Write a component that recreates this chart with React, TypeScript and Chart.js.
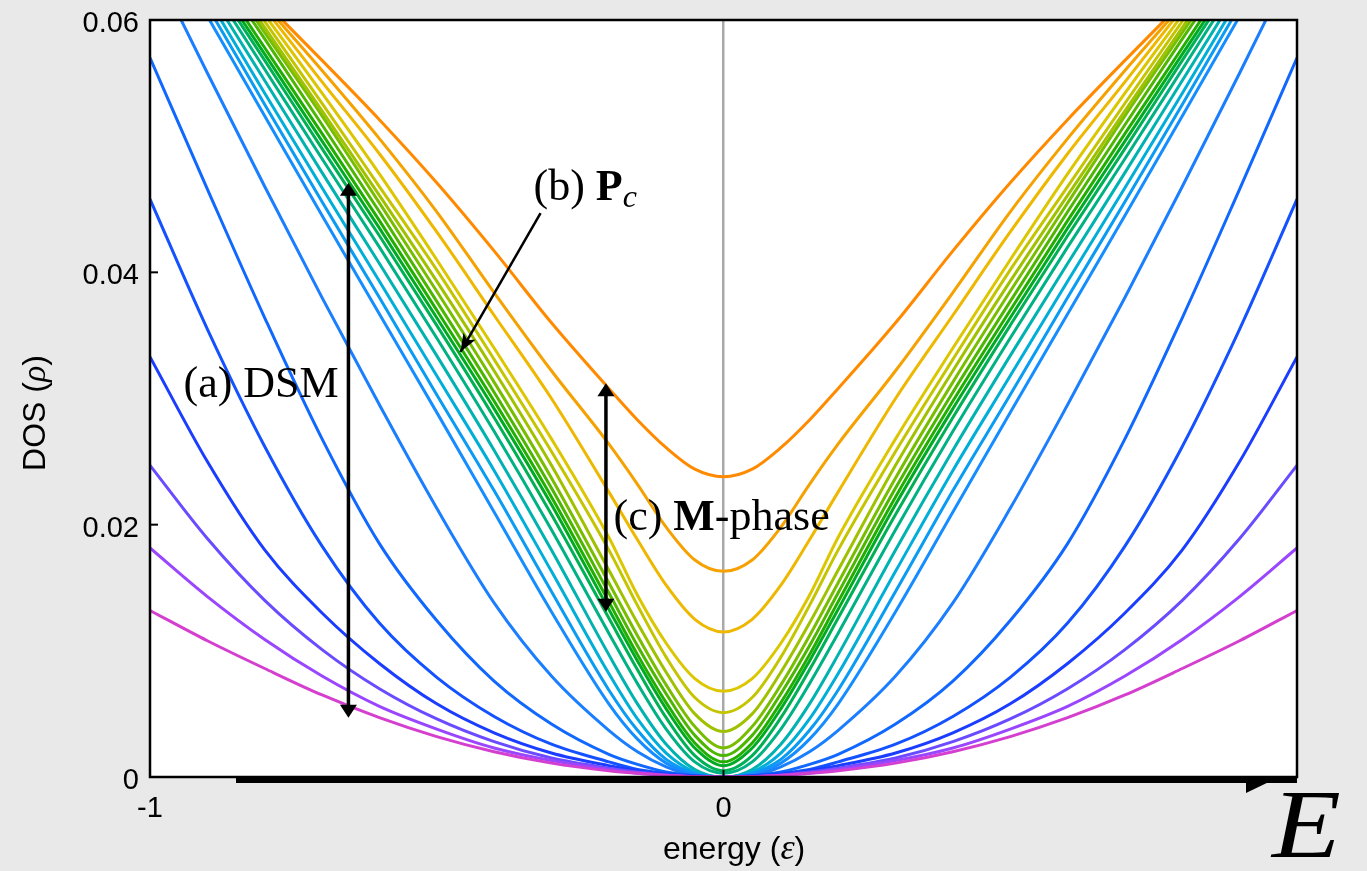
import { useEffect, useRef } from "react";
import { Chart, registerables } from "chart.js";

Chart.register(...registerables);

// energy grid (right half; the DOS curves are symmetric in energy)
const ENERGY = [0, 0.05, 0.1, 0.15, 0.2, 0.3, 0.4, 0.5, 0.6, 0.7, 0.8, 0.9, 1.0];

// DOS curves, from weakest (magenta) to strongest disorder (orange)
const rho01 = [0, 0.00003, 0.00012, 0.0003, 0.0005, 0.0011, 0.002, 0.0032, 0.0047, 0.0065, 0.0086, 0.0108, 0.0132];
const rho02 = [0, 0.00003, 0.00014, 0.0003, 0.0006, 0.0013, 0.0023, 0.0038, 0.0056, 0.008, 0.0109, 0.0143, 0.01815];
const rho03 = [0, 0.00004, 0.00016, 0.0004, 0.0007, 0.0015, 0.0028, 0.0046, 0.007, 0.0101, 0.014, 0.0189, 0.0247];
const rho04 = [0, 0.00005, 0.0002, 0.0005, 0.0009, 0.0019, 0.0035, 0.0058, 0.009, 0.013, 0.018, 0.025, 0.0333];
const rho05 = [0, 0.0001, 0.0003, 0.0006, 0.0012, 0.0026, 0.0048, 0.0079, 0.0122, 0.0183, 0.0262, 0.0355, 0.0458];
const rho06 = [0, 0.0001, 0.0004, 0.001, 0.0018, 0.0042, 0.0076, 0.0124, 0.0185, 0.0268, 0.0364, 0.0466, 0.057];
const rho07 = [0, 0.0001, 0.0008, 0.002, 0.0037, 0.008, 0.0138, 0.0213, 0.0295, 0.038, 0.0468, 0.0558, 0.065];
const rho08 = [0, 0.0002, 0.0011, 0.003, 0.0058, 0.0131, 0.021, 0.0289, 0.0367, 0.0445, 0.0524, 0.0603, 0.0682];
const rho09 = [0, 0.0003, 0.0014, 0.0037, 0.0069, 0.0147, 0.0227, 0.0303, 0.038, 0.0456, 0.0533, 0.0611, 0.0688];
const rho10 = [0, 0.0004, 0.0019, 0.0046, 0.0082, 0.0163, 0.0243, 0.0318, 0.0393, 0.0467, 0.0542, 0.0618, 0.0693];
const rho11 = [0, 0.0006, 0.0026, 0.0058, 0.0097, 0.018, 0.0259, 0.0334, 0.0407, 0.0479, 0.0552, 0.0625, 0.0698];
const rho12 = [0.0003, 0.0012, 0.0038, 0.0074, 0.0114, 0.0196, 0.0274, 0.0348, 0.042, 0.049, 0.0561, 0.0632, 0.0702];
const rho13 = [0.0005, 0.0017, 0.0047, 0.0085, 0.0126, 0.0208, 0.0285, 0.0358, 0.0429, 0.0498, 0.0568, 0.0637, 0.0706];
const rho14 = [0.0009, 0.0023, 0.0054, 0.0092, 0.0133, 0.0216, 0.0292, 0.0364, 0.0435, 0.0504, 0.0573, 0.0641, 0.0709];
const rho15 = [0.0012, 0.0027, 0.0059, 0.0097, 0.0139, 0.0222, 0.0298, 0.037, 0.0441, 0.051, 0.0578, 0.0646, 0.0714];
const rho16 = [0.0017, 0.0033, 0.0066, 0.0104, 0.0146, 0.0229, 0.0305, 0.0377, 0.0448, 0.0517, 0.0585, 0.0652, 0.0719];
const rho17 = [0.0023, 0.004, 0.0073, 0.0112, 0.0154, 0.0237, 0.0313, 0.0385, 0.0455, 0.0524, 0.059, 0.0656, 0.0722];
const rho18 = [0.0036, 0.005, 0.0083, 0.0122, 0.0164, 0.0247, 0.0322, 0.0393, 0.0461, 0.0528, 0.0594, 0.066, 0.0726];
const rho19 = [0.0051, 0.0063, 0.0095, 0.0136, 0.018, 0.0258, 0.0331, 0.0402, 0.0468, 0.0534, 0.0599, 0.0663, 0.0727];
const rho20 = [0.0068, 0.0078, 0.0106, 0.0144, 0.019, 0.0268, 0.034, 0.041, 0.0478, 0.0542, 0.0604, 0.0665, 0.0725];
const rho21 = [0.0115, 0.0125, 0.0152, 0.0188, 0.0226, 0.03, 0.0366, 0.0432, 0.0494, 0.0551, 0.0609, 0.0667, 0.0725];
const rho22 = [0.0163, 0.0172, 0.0198, 0.0232, 0.0264, 0.0322, 0.0384, 0.0448, 0.0506, 0.056, 0.0612, 0.0665, 0.0718];
const rho23 = [0.0238, 0.0244, 0.0261, 0.0283, 0.0308, 0.036, 0.0417, 0.0471, 0.0521, 0.0568, 0.0614, 0.066, 0.0705];

const CURVES = [rho01, rho02, rho03, rho04, rho05, rho06, rho07, rho08, rho09, rho10, rho11, rho12,
  rho13, rho14, rho15, rho16, rho17, rho18, rho19, rho20, rho21, rho22, rho23];

const CURVE_COLORS = ["#d53fcf", "#9a46ff", "#6b4bff", "#1b3dff", "#1452ff", "#1168ff", "#1a7eff",
  "#168dff", "#0a9bf2", "#00aed8", "#00b2b0", "#00b183", "#00b055", "#00aa22", "#22ae00", "#4cb600",
  "#78bd00", "#a0c100", "#c4c500", "#dcc600", "#eeb700", "#f5a100", "#ff8a00"];

const X_MIN = -1;
const X_MAX = 1;
const Y_MIN = 0;
const Y_MAX = 0.06;
const Y_TICKS = [0.02, 0.04, 0.06];

function mirrored(values: number[]) {
  const pts: { x: number; y: number }[] = [];
  for (let i = ENERGY.length - 1; i >= 1; i--) pts.push({ x: -ENERGY[i], y: values[i] });
  for (let i = 0; i < ENERGY.length; i++) pts.push({ x: ENERGY[i], y: values[i] });
  return pts;
}

type Run = { text: string; font: string; dy?: number };

function drawRuns(ctx: CanvasRenderingContext2D, x: number, y: number, runs: Run[], align: "left" | "center" = "left") {
  let total = 0;
  for (const r of runs) {
    ctx.font = r.font;
    total += ctx.measureText(r.text).width;
  }
  let cx = align === "center" ? x - total / 2 : x;
  ctx.textAlign = "left";
  ctx.textBaseline = "alphabetic";
  for (const r of runs) {
    ctx.font = r.font;
    ctx.fillText(r.text, cx, y + (r.dy || 0));
    cx += ctx.measureText(r.text).width;
  }
}

function doubleArrow(ctx: CanvasRenderingContext2D, x: number, y1: number, y2: number) {
  const hl = 13;
  const hw = 8.5;
  ctx.strokeStyle = "#000";
  ctx.fillStyle = "#000";
  ctx.lineWidth = 3.5;
  ctx.beginPath();
  ctx.moveTo(x, y1 + hl - 1);
  ctx.lineTo(x, y2 - hl + 1);
  ctx.stroke();
  ctx.beginPath();
  ctx.moveTo(x, y1);
  ctx.lineTo(x - hw, y1 + hl);
  ctx.lineTo(x + hw, y1 + hl);
  ctx.closePath();
  ctx.fill();
  ctx.beginPath();
  ctx.moveTo(x, y2);
  ctx.lineTo(x - hw, y2 - hl);
  ctx.lineTo(x + hw, y2 - hl);
  ctx.closePath();
  ctx.fill();
}

const decorPlugin = {
  id: "decor",
  beforeDraw(chart: any) {
    const { ctx, chartArea: a } = chart;
    ctx.save();
    ctx.fillStyle = "#ffffff";
    ctx.fillRect(a.left, a.top, a.right - a.left, a.bottom - a.top);
    ctx.restore();
  },
  afterDraw(chart: any) {
    const { ctx, chartArea: a } = chart;
    const xs = chart.scales.x;
    const ys = chart.scales.y;
    const px = (v: number) => xs.getPixelForValue(v);
    const py = (v: number) => ys.getPixelForValue(v);
    ctx.save();

    // frame
    ctx.strokeStyle = "#000";
    ctx.lineWidth = 2.5;
    ctx.strokeRect(a.left, a.top, a.right - a.left, a.bottom - a.top);

    // inward tick marks
    ctx.lineWidth = 2;
    for (const t of Y_TICKS) {
      ctx.beginPath();
      ctx.moveTo(a.left, py(t));
      ctx.lineTo(a.left + 8, py(t));
      ctx.stroke();
    }
    ctx.beginPath();
    ctx.moveTo(px(0), a.bottom);
    ctx.lineTo(px(0), a.bottom - 7);
    ctx.stroke();

    // thick energy axis arrow "E"
    ctx.fillStyle = "#000";
    ctx.fillRect(a.left + 86, a.bottom - 1, a.right - a.left - 86, 7);
    ctx.beginPath();
    ctx.moveTo(a.right - 51, a.bottom + 5);
    ctx.lineTo(a.right - 24, a.bottom + 3);
    ctx.lineTo(a.right - 51, a.bottom + 16);
    ctx.closePath();
    ctx.fill();

    // annotation arrows
    doubleArrow(ctx, px(-0.654), py(0.0471), py(0.0047));
    doubleArrow(ctx, px(-0.205), py(0.0312), py(0.0131));

    // (b) arrow
    const x1 = px(-0.319), y1 = py(0.0447);
    const x2 = px(-0.4586), y2 = py(0.0337);
    ctx.lineWidth = 2.5;
    ctx.beginPath();
    ctx.moveTo(x1, y1);
    ctx.lineTo(x2, y2);
    ctx.stroke();
    const ang = Math.atan2(y2 - y1, x2 - x1);
    const hl = 18, hw = 7;
    ctx.beginPath();
    ctx.moveTo(x2, y2);
    ctx.lineTo(x2 - hl * Math.cos(ang) + hw * Math.sin(ang), y2 - hl * Math.sin(ang) - hw * Math.cos(ang));
    ctx.lineTo(x2 - hl * 0.75 * Math.cos(ang), y2 - hl * 0.75 * Math.sin(ang));
    ctx.lineTo(x2 - hl * Math.cos(ang) - hw * Math.sin(ang), y2 - hl * Math.sin(ang) + hw * Math.cos(ang));
    ctx.closePath();
    ctx.fill();

    // annotation texts
    ctx.fillStyle = "#000";
    const serif = "'Liberation Serif', 'Times New Roman', serif";
    drawRuns(ctx, px(-0.9416), py(0.0301), [{ text: "(a) DSM", font: `44px ${serif}` }]);
    drawRuns(ctx, px(-0.3313), py(0.0457), [
      { text: "(b) ", font: `44px ${serif}` },
      { text: "P", font: `bold 44px ${serif}` },
      { text: "c", font: `italic 32px ${serif}`, dy: 7 },
    ]);
    drawRuns(ctx, px(-0.1918), py(0.0196), [
      { text: "(c) ", font: `44px ${serif}` },
      { text: "M", font: `bold 44px ${serif}` },
      { text: "-phase", font: `44px ${serif}` },
    ]);

    // axis titles
    const sans = "'Liberation Sans', Arial, sans-serif";
    drawRuns(ctx, 663, 859, [
      { text: "energy (", font: `32px ${sans}` },
      { text: "ε", font: `italic 36px ${serif}` },
      { text: ")", font: `32px ${sans}` },
    ]);
    ctx.save();
    ctx.translate(45, 413);
    ctx.rotate(-Math.PI / 2);
    drawRuns(ctx, 0, 0, [
      { text: "DOS (", font: `32px ${sans}` },
      { text: "ρ", font: `italic 34px ${serif}` },
      { text: ")", font: `32px ${sans}` },
    ], "center");
    ctx.restore();

    // big E
    ctx.save();
    ctx.translate(1272, 857);
    ctx.scale(1.15, 1);
    ctx.font = `italic 98px ${serif}`;
    ctx.textAlign = "left";
    ctx.textBaseline = "alphabetic";
    ctx.fillText("E", 0, 0);
    ctx.restore();

    ctx.restore();
  },
};

export default function App() {
  const ref = useRef<HTMLCanvasElement>(null);
  useEffect(() => {
    const canvas = ref.current;
    if (!canvas) return;
    const chart = new Chart(canvas, {
      type: "line",
      data: {
        datasets: CURVES.map((c, i) => ({
          data: mirrored(c),
          borderColor: CURVE_COLORS[i],
          borderWidth: 3,
          pointRadius: 0,
          fill: false,
          cubicInterpolationMode: "monotone" as const,
        })),
      },
      options: {
        animation: false,
        responsive: false,
        devicePixelRatio: 1,
        layout: { padding: { left: 0, right: 70, top: 20, bottom: 0 } },
        plugins: { legend: { display: false }, tooltip: { enabled: false } },
        scales: {
          x: {
            type: "linear",
            min: X_MIN,
            max: X_MAX,
            border: { display: false },
            grid: {
              drawTicks: false,
              lineWidth: 2.5,
              color: (ctx: any) => (ctx.tick && ctx.tick.value === 0 ? "#a9a9a9" : "rgba(0,0,0,0)"),
            },
            ticks: {
              stepSize: 1,
              autoSkip: false,
              maxRotation: 0,
              padding: 15,
              color: "#000",
              font: { family: "'Liberation Sans', Arial, sans-serif", size: 29 },
              callback: (v: any) => (Number(v) === 1 ? "" : String(v)),
            },
            afterFit: (s: any) => {
              s.height = 94;
              s.paddingLeft = 0;
              s.paddingRight = 0;
            },
          },
          y: {
            type: "linear",
            min: Y_MIN,
            max: Y_MAX,
            border: { display: false },
            grid: { display: false, drawTicks: false },
            ticks: {
              stepSize: 0.02,
              padding: 11,
              labelOffset: 4,
              color: "#000",
              font: { family: "'Liberation Sans', Arial, sans-serif", size: 29 },
              callback: (v: any) => (Number(v) === 0 ? "0" : Number(v).toFixed(2)),
            },
            afterFit: (s: any) => {
              s.width = 150;
              s.paddingTop = 0;
              s.paddingBottom = 0;
            },
          },
        },
      },
      plugins: [decorPlugin],
    } as any);
    return () => chart.destroy();
  }, []);
  return (
    <div style={{ position: "absolute", left: 0, top: 0, width: 1367, height: 871, background: "#e9e9e9" }}>
      <canvas ref={ref} width={1367} height={871} style={{ display: "block", width: 1367, height: 871 }} />
    </div>
  );
}
